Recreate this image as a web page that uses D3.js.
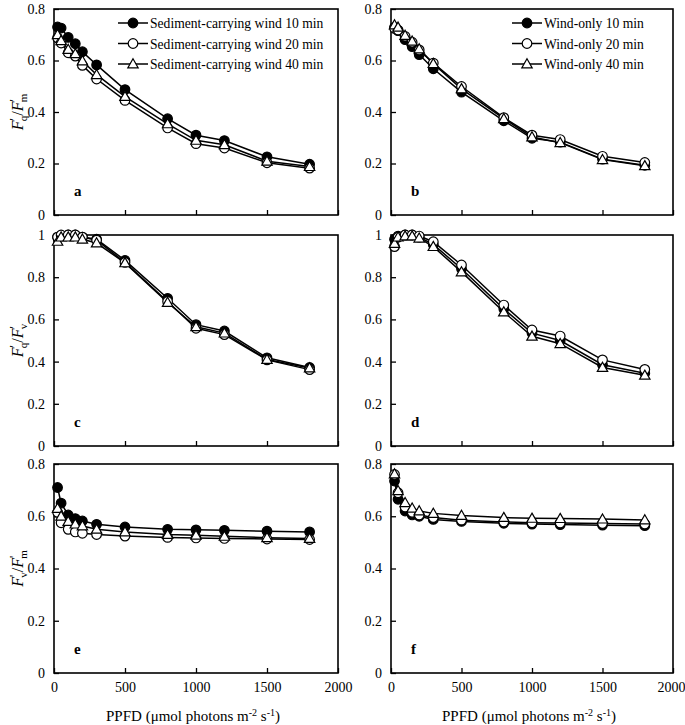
<!DOCTYPE html>
<html><head><meta charset="utf-8">
<script src="https://cdn.jsdelivr.net/npm/d3@7"></script>
<style>
body{margin:0;background:#fff;}
svg text{font-family:"Liberation Serif","Times New Roman",serif;fill:#000;}
</style></head>
<body><svg id="c" width="685" height="725"></svg>
<script>
// ---- data ----
const ppfd = [25, 50, 100, 150, 200, 300, 500, 800, 1000, 1200, 1500, 1800];
const xTicks = [0, 500, 1000, 1500, 2000];
const yTicksA = [0, 0.2, 0.4, 0.6, 0.8];
const yTicksC = [0, 0.2, 0.4, 0.6, 0.8, 1];

const legendSed = ["Sediment-carrying wind 10 min", "Sediment-carrying wind 20 min", "Sediment-carrying wind 40 min"];
const legendWind = ["Wind-only 10 min", "Wind-only 20 min", "Wind-only 40 min"];

// a: Fq'/Fm' sediment-carrying wind
const aSed10 = [0.730, 0.726, 0.690, 0.665, 0.634, 0.583, 0.487, 0.374, 0.310, 0.289, 0.226, 0.197];
const aSed20 = [0.688, 0.668, 0.630, 0.617, 0.581, 0.528, 0.445, 0.338, 0.277, 0.260, 0.203, 0.182];
const aSed40 = [0.700, 0.677, 0.643, 0.626, 0.598, 0.545, 0.460, 0.354, 0.290, 0.273, 0.209, 0.188];
// b: Fq'/Fm' wind-only
const bWind10 = [0.729, 0.716, 0.681, 0.654, 0.623, 0.568, 0.477, 0.366, 0.298, 0.283, 0.217, 0.193];
const bWind20 = [0.725, 0.718, 0.694, 0.671, 0.641, 0.590, 0.499, 0.378, 0.310, 0.293, 0.228, 0.204];
const bWind40 = [0.738, 0.729, 0.697, 0.675, 0.645, 0.588, 0.490, 0.374, 0.303, 0.281, 0.215, 0.191];
// c: Fq'/Fv' sediment-carrying wind
const cSed10 = [0.990, 0.995, 1.000, 1.000, 0.990, 0.980, 0.880, 0.700, 0.575, 0.545, 0.418, 0.372];
const cSed20 = [0.990, 1.000, 1.000, 1.000, 0.990, 0.975, 0.870, 0.685, 0.558, 0.528, 0.408, 0.362];
const cSed40 = [0.970, 0.990, 0.990, 0.990, 0.980, 0.962, 0.868, 0.680, 0.565, 0.535, 0.410, 0.370];
// d: Fq'/Fv' wind-only
const dWind10 = [0.980, 0.995, 1.000, 1.000, 0.990, 0.955, 0.840, 0.650, 0.535, 0.500, 0.385, 0.345];
const dWind20 = [0.945, 0.990, 1.000, 1.000, 0.995, 0.968, 0.858, 0.668, 0.550, 0.521, 0.408, 0.363];
const dWind40 = [0.960, 0.990, 0.995, 0.995, 0.985, 0.945, 0.825, 0.635, 0.520, 0.485, 0.372, 0.335];
// e: Fv'/Fm' sediment-carrying wind
const eSed10 = [0.710, 0.650, 0.605, 0.591, 0.582, 0.569, 0.559, 0.550, 0.548, 0.546, 0.543, 0.540];
const eSed20 = [0.615, 0.575, 0.550, 0.540, 0.535, 0.530, 0.524, 0.519, 0.517, 0.515, 0.513, 0.511];
const eSed40 = [0.630, 0.600, 0.580, 0.570, 0.563, 0.550, 0.540, 0.530, 0.527, 0.523, 0.518, 0.515];
// f: Fv'/Fm' wind-only
const fWind10 = [0.735, 0.665, 0.620, 0.605, 0.600, 0.588, 0.580, 0.573, 0.570, 0.568, 0.566, 0.564];
const fWind20 = [0.760, 0.690, 0.635, 0.615, 0.605, 0.595, 0.585, 0.578, 0.575, 0.574, 0.572, 0.570];
const fWind40 = [0.762, 0.698, 0.652, 0.631, 0.620, 0.611, 0.603, 0.595, 0.592, 0.591, 0.589, 0.586];

const markers = ["filled", "open", "triangle"];

// ---- layout ----
const cols = [{x0: 54, x1: 338}, {x0: 391, x1: 673}];
const rows = [{y0: 9, y1: 215}, {y0: 235, y1: 446}, {y0: 464, y1: 673}];

const panels = [
  {r: 0, c: 0, letter: "a", series: [aSed10, aSed20, aSed40], yMax: 0.8, yTicks: yTicksA, legend: legendSed, ylab: ["q", "m"]},
  {r: 0, c: 1, letter: "b", series: [bWind10, bWind20, bWind40], yMax: 0.8, yTicks: yTicksA, legend: legendWind},
  {r: 1, c: 0, letter: "c", series: [cSed10, cSed20, cSed40], yMax: 1, yTicks: yTicksC, ylab: ["q", "v"]},
  {r: 1, c: 1, letter: "d", series: [dWind10, dWind20, dWind40], yMax: 1, yTicks: yTicksC},
  {r: 2, c: 0, letter: "e", series: [eSed10, eSed20, eSed40], yMax: 0.8, yTicks: yTicksA, ylab: ["v", "m"], xlab: true},
  {r: 2, c: 1, letter: "f", series: [fWind10, fWind20, fWind40], yMax: 0.8, yTicks: yTicksA, xlab: true},
];

const svg = d3.select("#c");

function drawMarker(g, type, x, y) {
  if (type === "triangle") {
    const s = 5.2;
    g.append("path")
      .attr("d", `M${x},${y - s}L${x + s},${y + s * 0.75}L${x - s},${y + s * 0.75}Z`)
      .attr("fill", "#fff").attr("stroke", "#000").attr("stroke-width", 1.2);
  } else {
    g.append("circle").attr("cx", x).attr("cy", y).attr("r", 4.8)
      .attr("fill", type === "filled" ? "#000" : "#fff")
      .attr("stroke", "#000").attr("stroke-width", 1.2);
  }
}

panels.forEach(p => {
  const col = cols[p.c], row = rows[p.r];
  const x = d3.scaleLinear().domain([0, 2000]).range([col.x0, col.x1]);
  const y = d3.scaleLinear().domain([0, p.yMax]).range([row.y1, row.y0]);
  const g = svg.append("g");

  // x axis (inward ticks)
  const xa = g.append("g").attr("transform", `translate(0,${row.y1})`)
    .call(d3.axisBottom(x).tickValues(xTicks).tickSize(-5).tickPadding(9).tickFormat(p.xlab ? d3.format("d") : () => ""));
  xa.select(".domain").remove();
  xa.selectAll("line").attr("stroke", "#000").attr("stroke-width", 1.3);
  xa.selectAll("text").attr("font-size", 14);
  if (p.c === 1) xa.selectAll("text").filter(d => d === 2000).attr("dx", -2);

  // y axis (inward ticks)
  const ya = g.append("g").attr("transform", `translate(${col.x0},0)`)
    .call(d3.axisLeft(y).tickValues(p.yTicks).tickSize(-5).tickPadding(9).tickFormat(d => d3.format("~g")(d)));
  ya.select(".domain").remove();
  ya.selectAll("line").attr("stroke", "#000").attr("stroke-width", 1.3);
  ya.selectAll("text").attr("font-size", 14);

  // frame
  g.append("rect").attr("x", col.x0).attr("y", row.y0)
    .attr("width", col.x1 - col.x0).attr("height", row.y1 - row.y0)
    .attr("fill", "none").attr("stroke", "#000").attr("stroke-width", 1.6);

  // series
  const line = d3.line().x((d, i) => x(ppfd[i])).y(d => y(d));
  p.series.forEach((s, si) => {
    g.append("path").datum(s).attr("d", line)
      .attr("fill", "none").attr("stroke", "#000").attr("stroke-width", 1.5);
  });
  p.series.forEach((s, si) => {
    const mg = g.append("g");
    s.forEach((v, i) => drawMarker(mg, markers[si], x(ppfd[i]), y(v)));
  });

  // panel letter
  g.append("text").attr("x", col.x0 + 20).attr("y", row.y1 - 19)
    .attr("font-size", 15).attr("font-weight", "bold").text(p.letter);

  // legend
  if (p.legend) {
    const lx = col.x0 + (p.c === 0 ? 64 : 121);
    p.legend.forEach((t, i) => {
      const ly = row.y0 + 14 + i * 20.5;
      g.append("line").attr("x1", lx).attr("x2", lx + 30).attr("y1", ly).attr("y2", ly)
        .attr("stroke", "#000").attr("stroke-width", 1.5);
      drawMarker(g, markers[i], lx + 15, ly);
      g.append("text").attr("x", lx + 32).attr("y", ly + 5).attr("font-size", 13.6).text(t);
    });
  }

  // y label
  if (p.ylab) {
    const cy = (row.y0 + row.y1) / 2;
    const t = g.append("text").attr("transform", `translate(23,${cy}) rotate(-90)`)
      .attr("text-anchor", "middle").attr("font-size", 16);
    t.append("tspan").attr("font-style", "italic").text("F");
    t.append("tspan").attr("dy", -5).attr("font-size", 12).text("'");
    t.append("tspan").attr("dy", 9).attr("dx", -3).attr("font-size", 11).text(p.ylab[0]);
    t.append("tspan").attr("dy", -4).text("/");
    t.append("tspan").attr("font-style", "italic").text("F");
    t.append("tspan").attr("dy", -5).attr("font-size", 12).text("'");
    t.append("tspan").attr("dy", 9).attr("dx", -3).attr("font-size", 11).text(p.ylab[1]);
  }

  // x label
  if (p.xlab) {
    const t = g.append("text").attr("x", (col.x0 + col.x1) / 2 - 3).attr("y", 721)
      .attr("text-anchor", "middle").attr("font-size", 15);
    t.append("tspan").text("PPFD (μmol photons m");
    t.append("tspan").attr("dy", -5).attr("font-size", 10).text("-2");
    t.append("tspan").attr("dy", 5).text(" s");
    t.append("tspan").attr("dy", -5).attr("font-size", 10).text("-1");
    t.append("tspan").attr("dy", 5).text(")");
  }
});
</script></body></html>
